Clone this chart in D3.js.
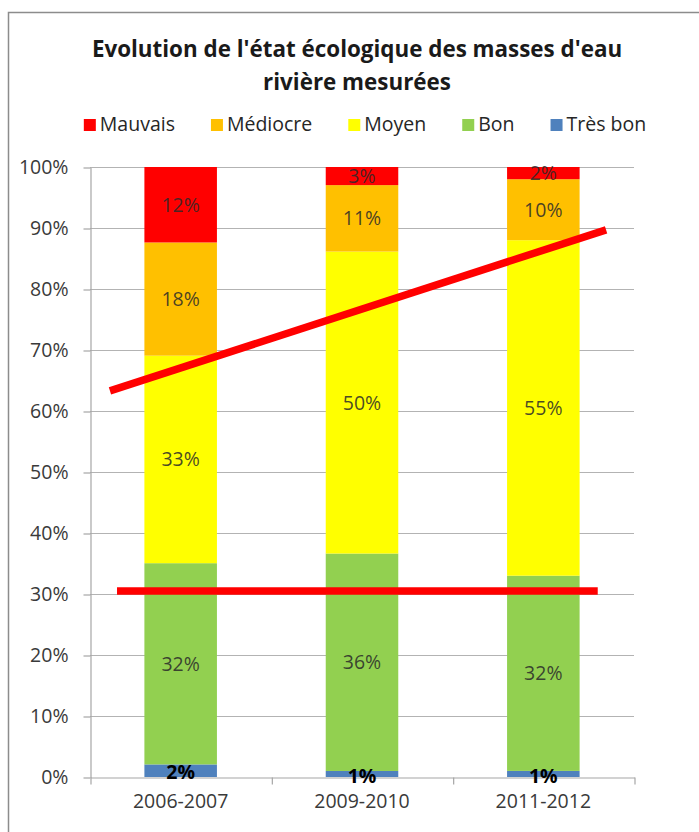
<!DOCTYPE html>
<html>
<head>
<meta charset="utf-8">
<script src="https://cdn.jsdelivr.net/npm/d3@7"></script>
<style>
  body { margin: 0; background: #fff; }
  svg { display: block; font-family: "Open Sans", sans-serif; }
</style>
</head>
<body>
<div id="chart"></div>
<script>
// Periods (x categories)
var periods = ["2006-2007", "2009-2010", "2011-2012"]

// Classes, stacked from bottom to top
var classes = ["Très bon", "Bon", "Moyen", "Médiocre", "Mauvais"]
var classColors = ["#4f81bd", "#92d050", "#ffff00", "#ffc000", "#ff0000"]
var legendOrder = ["Mauvais", "Médiocre", "Moyen", "Bon", "Très bon"]

// Values (%) for each class, one per period
var tresBon = [2, 1, 1]
var bon = [32, 36, 32]
var moyen = [33, 50, 55]
var mediocre = [18, 11, 10]
var mauvais = [12, 3, 2]

var yTicks = [0, 0.1, 0.2, 0.3, 0.4, 0.5, 0.6, 0.7, 0.8, 0.9, 1]

// Red annotation lines drawn on top: x in category units (0..3), y as share
var trendLine = [{ x: 0.11, y: 0.633 }, { x: 2.846, y: 0.897 }]
var thresholdLine = [{ x: 0.149, y: 0.305 }, { x: 2.80, y: 0.305 }]

var title1 = "Evolution de l'état écologique des masses d'eau"
var title2 = "rivière mesurées"

// ------------------------------- //
// Layout
// ------------------------------- //
var width = 699, height = 832
var plot = { left: 90, right: 634, top: 167, bottom: 777 }

var svg = d3.select("#chart")
    .append("svg")
    .attr("width", width)
    .attr("height", height)

// chart frame (runs off the right and bottom of the picture)
svg.append("rect")
    .attr("x", 8.5).attr("y", 12.5)
    .attr("width", 760).attr("height", 900)
    .attr("fill", "#fff")
    .attr("stroke", "#8c8c8c")
    .attr("stroke-width", 1.5)

// Table for the stack
var rows = periods.map(function(p, i) {
    return { period: p, "Très bon": tresBon[i], "Bon": bon[i], "Moyen": moyen[i], "Médiocre": mediocre[i], "Mauvais": mauvais[i] }
})

var series = d3.stack()
    .keys(classes)
    .offset(d3.stackOffsetExpand)(rows)

// Scales
var x = d3.scaleBand()
    .domain(periods)
    .range([plot.left, plot.right])
    .paddingInner(0.6)
    .paddingOuter(0.3)

var xPos = d3.scaleLinear()
    .domain([0, periods.length])
    .range([plot.left, plot.right])

var y = d3.scaleLinear()
    .domain([0, 1])
    .range([plot.bottom, plot.top])

var color = d3.scaleOrdinal()
    .domain(classes)
    .range(classColors)

// Gridlines
svg.append("g")
    .selectAll("line")
    .data(yTicks.slice(1))
    .enter()
    .append("line")
    .attr("x1", plot.left).attr("x2", plot.right)
    .attr("y1", function(d) { return Math.round(y(d)) + 0.5 })
    .attr("y2", function(d) { return Math.round(y(d)) + 0.5 })
    .attr("stroke", "#b3b3b3")
    .attr("stroke-width", 1.2)

// Y axis
var yAxis = svg.append("g")
    .attr("transform", "translate(" + (plot.left + 0.5) + ",0.5)")
    .call(d3.axisLeft(y).tickValues(yTicks).tickFormat(d3.format(".0%")).tickSizeInner(7).tickSizeOuter(0).tickPadding(15))
yAxis.select(".domain").attr("stroke", "#a6a6a6").attr("stroke-width", 1.2)
yAxis.selectAll(".tick line").attr("stroke", "#a6a6a6").attr("stroke-width", 1.2)
yAxis.selectAll("text")
    .attr("fill", "#3a3a3a")
    .attr("font-size", "19.5px")
    .attr("font-family", "Open Sans, sans-serif")

// X axis: ticks at category boundaries, labels at centres
var xTicks = svg.append("g")
    .attr("transform", "translate(0.5," + (plot.bottom + 0.5) + ")")
    .call(d3.axisBottom(xPos).tickValues(d3.range(periods.length + 1)).tickFormat("").tickSizeInner(7).tickSizeOuter(0))
xTicks.select(".domain").attr("stroke", "#a6a6a6").attr("stroke-width", 1.2)
xTicks.selectAll(".tick line").attr("stroke", "#a6a6a6").attr("stroke-width", 1.2)

var xLabels = svg.append("g")
    .attr("transform", "translate(0," + plot.bottom + ")")
    .call(d3.axisBottom(x).tickSize(0).tickPadding(17))
xLabels.select(".domain").remove()
xLabels.selectAll("text")
    .attr("fill", "#3a3a3a")
    .attr("font-size", "19.5px")
    .attr("font-family", "Open Sans, sans-serif")

// Bars
var layer = svg.append("g")
    .selectAll("g")
    .data(series)
    .enter()
    .append("g")
    .attr("fill", function(d) { return color(d.key) })

layer.selectAll("rect")
    .data(function(d) { return d })
    .enter()
    .append("rect")
    .attr("x", function(d) { return x(d.data.period) })
    .attr("y", function(d) { return y(d[1]) })
    .attr("width", x.bandwidth())
    .attr("height", function(d) { return y(d[0]) - y(d[1]) })

// Segment labels (raw values)
series.forEach(function(s) {
    var isBottom = s.key === "Très bon"
    svg.append("g")
        .selectAll("text")
        .data(s)
        .enter()
        .append("text")
        .attr("x", function(d) { return x(d.data.period) + x.bandwidth() / 2 })
        .attr("y", function(d) { return (y(d[0]) + y(d[1])) / 2 })
        .attr("dy", isBottom ? "0.45em" : "0.36em")
        .attr("text-anchor", "middle")
        .attr("font-size", "19.5px")
        .attr("font-weight", isBottom ? "bold" : "normal")
        .attr("fill", isBottom ? "#000" : "#2a2a2a")
        .attr("fill-opacity", isBottom ? 1 : 0.85)
        .text(function(d) { return d.data[s.key] + "%" })
})

// Red annotation lines
var line = d3.line()
    .x(function(d) { return xPos(d.x) })
    .y(function(d) { return y(d.y) })

svg.selectAll(".annot")
    .data([trendLine, thresholdLine])
    .enter()
    .append("path")
    .attr("class", "annot")
    .attr("d", line)
    .attr("fill", "none")
    .attr("stroke", "#ff0000")
    .attr("stroke-width", 7.5)

// Title
svg.append("text")
    .attr("x", 357).attr("y", 57)
    .attr("text-anchor", "middle")
    .attr("font-size", "22.4px")
    .attr("font-weight", "bold")
    .attr("fill", "#1a1a1a")
    .text(title1)
svg.append("text")
    .attr("x", 357).attr("y", 90)
    .attr("text-anchor", "middle")
    .attr("font-size", "22.4px")
    .attr("font-weight", "bold")
    .attr("fill", "#1a1a1a")
    .text(title2)

// Legend
var legend = svg.append("g")
var lx = 0
legendOrder.forEach(function(k) {
    var item = legend.append("g").attr("transform", "translate(" + lx + ",0)")
    item.append("rect")
        .attr("x", 0).attr("y", -12)
        .attr("width", 12).attr("height", 12)
        .attr("fill", color(k))
    var t = item.append("text")
        .attr("x", 16).attr("y", 0)
        .attr("font-size", "19.5px")
        .attr("fill", "#262626")
        .text(k)
    lx += 16 + t.node().getComputedTextLength() + 36
})
var legendWidth = lx - 36
legend.attr("transform", "translate(" + (365 - legendWidth / 2) + ",131)")
</script>
</body>
</html>
